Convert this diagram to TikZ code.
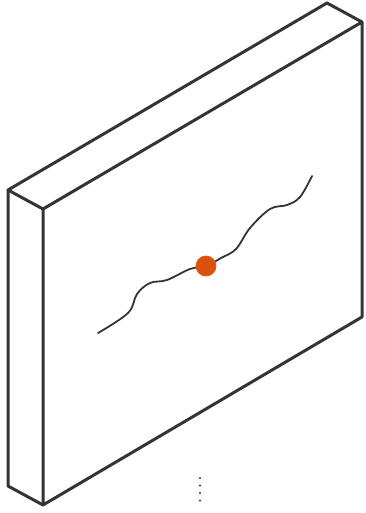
\documentclass[tikz,border=0pt]{standalone}
\usepackage{tikz}
\definecolor{slabline}{RGB}{52,52,52}
\definecolor{pinorange}{RGB}{218,80,16}
\usetikzlibrary{calc}

\begin{document}
\begin{tikzpicture}[x=0.5mm,y=-0.5mm,
  slab/.style={draw=slabline, line width=1.5mm, line join=round},
  crack/.style={draw=slabline, line width=0.9mm, line cap=round},
  pin/.style={circle, fill=pinorange, draw=pinorange!75!orange, line width=0.4mm, inner sep=0pt, minimum size=10mm},
  dots/.style={draw=slabline, line width=1.1mm, line cap=round, dash pattern=on 0pt off 3.75mm}]
\useasboundingbox (0,0) rectangle (366,513);
% front face of the slab
\coordinate (ftl) at (43,209);
\coordinate (ftr) at (362,22);
\coordinate (fbr) at (362,317);
\coordinate (fbl) at (43,505);
% back edges, shifted by the depth
\def\dx{-35}
\def\dy{-19}
\coordinate (btl) at ($(ftl)+(\dx,\dy)$);
\coordinate (btr) at ($(ftr)+(\dx,\dy)$);
\coordinate (bbl) at ($(fbl)+(\dx,\dy)$);
\draw[slab] (ftl) -- (ftr) -- (fbr) -- (fbl) -- cycle;
\draw[slab] (ftl) -- (btl) -- (btr) -- (ftr);
\draw[slab] (btl) -- (bbl) -- (fbl);
% wavy crack with the pin on it
\draw[crack] plot[smooth, tension=0.6] coordinates {
  (98,333) (128,313) (137,294) (150,283) (167,280) (190,269) (206,266)
  (221,258) (236,249) (250,228) (270,209) (287,205) (300,197) (312,176)};
\node[pin] (pin) at (206,266) {};
% ellipsis below
\coordinate (dtop) at (200,478);
\coordinate (dbot) at (200,508);
\draw[dots] (dtop) -- (dbot);
\end{tikzpicture}
\end{document}
